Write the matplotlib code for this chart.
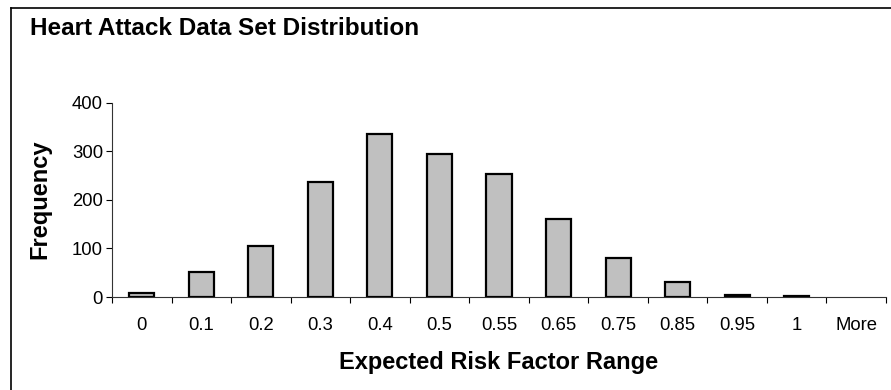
import matplotlib
matplotlib.use('Agg')
import matplotlib.pyplot as plt
from matplotlib.lines import Line2D
import numpy as np

# ── Histogram bins and counts ────────────────────────────────
bins = ['0', '0.1', '0.2', '0.3', '0.4', '0.5', '0.55', '0.65',
        '0.75', '0.85', '0.95', '1', 'More']
frequency = [8, 51, 105, 237, 335, 294, 254, 161, 80, 31, 4, 3, 0]

plt.rcParams['font.family'] = ['Liberation Sans', 'DejaVu Sans']

fig = plt.figure(figsize=(8.91, 3.90), dpi=100, facecolor='white')
ax = fig.add_axes([112 / 891, 1 - 297 / 390, 774 / 891, (297 - 102.7) / 390])

x = np.arange(len(bins))
freq = np.array(frequency)
# empty bins get no outline
nonzero = freq > 0
ax.bar(x[nonzero], freq[nonzero], width=0.42, color='#C0C0C0',
       edgecolor='black', linewidth=1.6, zorder=2)

ax.set_xlim(-0.5, len(bins) - 0.5)
ax.set_ylim(0, 400)
ax.set_yticks([0, 100, 200, 300, 400])

# category labels at centres, tick marks on the bin boundaries
ax.set_xticks(x)
ax.set_xticklabels(bins, fontsize=13.3)
ax.set_xticks(np.arange(-0.5, len(bins)), minor=True)
ax.tick_params(axis='x', which='major', length=0, pad=14.5)
ax.tick_params(axis='x', which='minor', length=4.5, width=0.8, direction='out')
ax.tick_params(axis='y', length=4.5, width=0.8, labelsize=13.3, pad=2)

for side in ['top', 'right']:
    ax.spines[side].set_visible(False)
for side in ['left', 'bottom']:
    ax.spines[side].set_linewidth(0.8)
    ax.spines[side].set_color('#333333')

ax.set_xlabel('Expected Risk Factor Range', fontsize=17, fontweight='bold',
              va='center')
ax.xaxis.set_label_coords(0.5, (297 - 362) / 194.3)
ax.set_ylabel('Frequency', fontsize=17, fontweight='bold', va='center')
ax.yaxis.set_label_coords((40 - 112) / 774, 0.504)

fig.text(30 / 891, 1 - 28.5 / 390, 'Heart Attack Data Set Distribution',
         fontsize=17.5, fontweight='bold', ha='left', va='center')

# chart frame (left and top edges only are inside the image)
fig.add_artist(Line2D([11 / 891, 11 / 891], [-0.05, 1 - 8 / 390],
                      transform=fig.transFigure, color='black', linewidth=1.2))
fig.add_artist(Line2D([11 / 891, 1.05], [1 - 8 / 390, 1 - 8 / 390],
                      transform=fig.transFigure, color='black', linewidth=1.2))

plt.savefig('out.png', dpi=100, facecolor='white')
plt.close()
